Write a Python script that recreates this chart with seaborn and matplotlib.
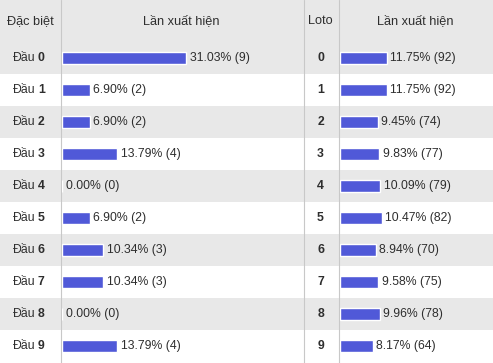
import matplotlib
matplotlib.use("Agg")
import matplotlib.pyplot as plt
import seaborn as sns
import pandas as pd

sns.set_theme(style="white")
plt.rcParams['font.family'] = ['Liberation Sans', 'DejaVu Sans']

# ---- data ----
special_labels = ["0", "1", "2", "3", "4", "5", "6", "7", "8", "9"]
special_pct = [31.03, 6.90, 6.90, 13.79, 0.00, 6.90, 10.34, 10.34, 0.00, 13.79]
special_cnt = [9, 2, 2, 4, 0, 2, 3, 3, 0, 4]

loto_labels = ["0", "1", "2", "3", "4", "5", "6", "7", "8", "9"]
loto_pct = [11.75, 11.75, 9.45, 9.83, 10.09, 10.47, 8.94, 9.58, 9.96, 8.17]
loto_cnt = [92, 92, 74, 77, 79, 82, 70, 75, 78, 64]

header_left = "Đặc biệt"
header_right = "Loto"
header_count = "Lần xuất hiện"
row_prefix = "Đầu"

# ---- style ----
W, H = 493, 363
DPI = 100
BAR = "#5059d8"
GRAY = "#e8e8e8"
LINE = "#c8c8c8"
TXT = "#2e2e2e"
HEAD_H = 42
ROW_H = 32
FS = 8.8
FS_H = 9.2

fig = plt.figure(figsize=(W / DPI, H / DPI), dpi=DPI)
bg = fig.add_axes([0, 0, 1, 1])
bg.set_xlim(0, W)
bg.set_ylim(H, 0)
bg.axis("off")

# header and striped rows
bg.axhspan(0, HEAD_H, color=GRAY, lw=0)
for i in range(len(special_labels)):
    if i % 2 == 0:
        y0 = HEAD_H + i * ROW_H
        bg.axhspan(y0, y0 + ROW_H, color=GRAY, lw=0)

for xv in (60.5, 303.5, 338.5):
    bg.axvline(xv, color=LINE, lw=0.8)

# headers
hy = HEAD_H / 2 + 0.5
bg.text(30, hy, header_left, ha="center", va="center", fontsize=FS_H, color=TXT)
bg.text(181.5, hy, header_count, ha="center", va="center", fontsize=FS_H, color=TXT)
bg.text(320.5, hy, header_right, ha="center", va="center", fontsize=FS_H, color=TXT)
bg.text(415.5, hy, header_count, ha="center", va="center", fontsize=FS_H, color=TXT)

# row labels
for i, (s, l) in enumerate(zip(special_labels, loto_labels)):
    yc = HEAD_H + i * ROW_H + ROW_H / 2
    bg.text(36.0, yc, row_prefix, ha="right", va="center", fontsize=FS, color=TXT)
    bg.text(38.0, yc, s, ha="left", va="center", fontsize=FS, color=TXT, fontweight="bold")
    bg.text(320.5, yc, l, ha="center", va="center", fontsize=FS, color=TXT, fontweight="bold")

PX_PER_PCT = 4.0


def bar_axes(x0, x1, labels, pct, cnt):
    ax = fig.add_axes([x0 / W, (H - (HEAD_H + ROW_H * len(labels))) / H,
                       (x1 - x0) / W, ROW_H * len(labels) / H])
    df = pd.DataFrame({"label": labels, "pct": pct})
    sns.barplot(data=df, x="pct", y="label", orient="h", color=BAR,
                saturation=1, width=12 / ROW_H, ax=ax, order=labels)
    ax.set_xlim(0, (x1 - x0) / PX_PER_PCT)
    ax.set_ylim(len(labels) - 0.5, -0.5)
    ax.patch.set_alpha(0)
    ax.axis("off")
    for i, (p, c) in enumerate(zip(pct, cnt)):
        ax.annotate(f"{p:.2f}% ({c})", xy=(p, i), xytext=(3.5, 0),
                    textcoords="offset pixels", ha="left", va="center",
                    fontsize=FS, color=TXT)
    return ax


bar_axes(62, 302, special_labels, special_pct, special_cnt)
bar_axes(340, 493, loto_labels, loto_pct, loto_cnt)

fig.savefig("out.png", dpi=DPI)
